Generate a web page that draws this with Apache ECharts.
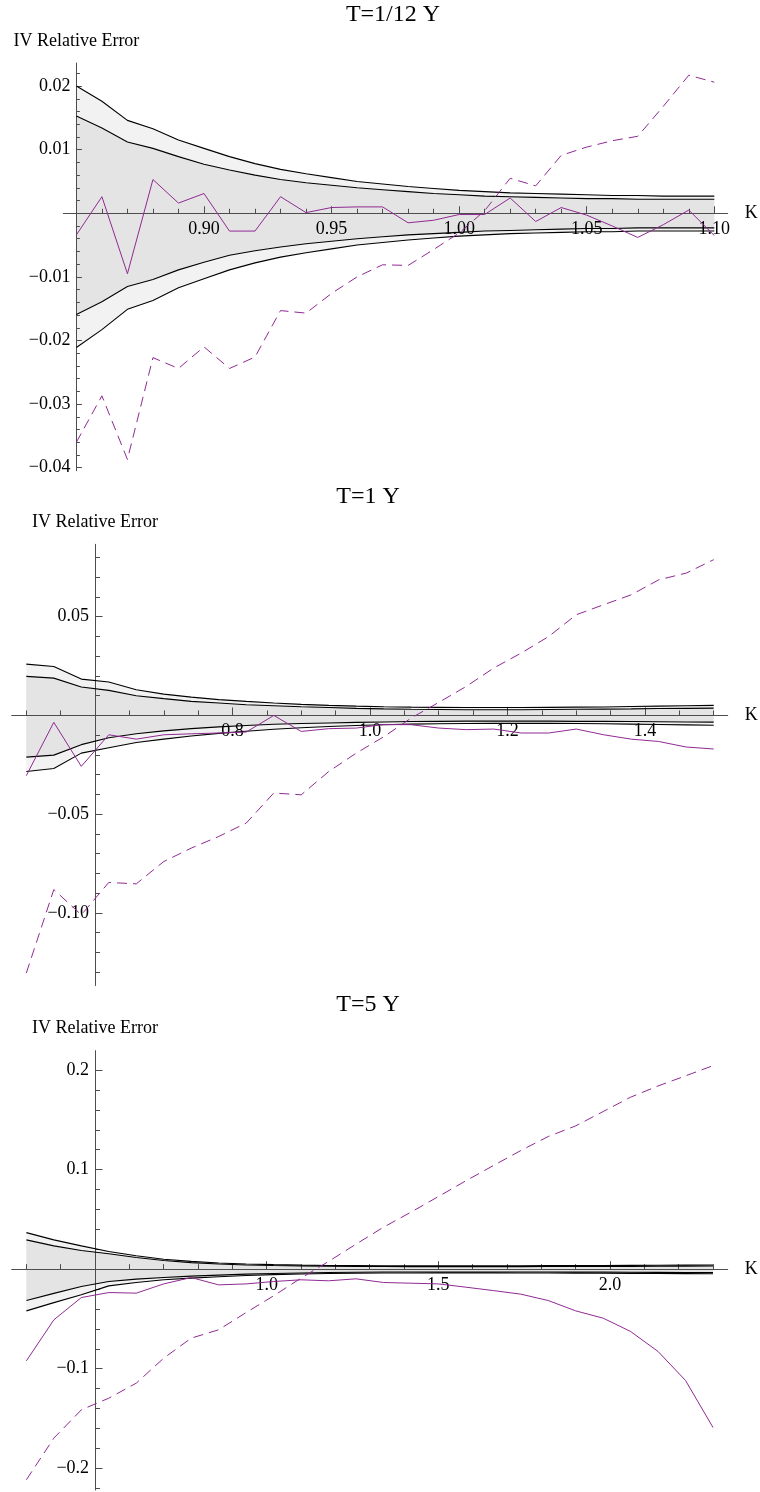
<!DOCTYPE html>
<html>
<head>
<meta charset="utf-8">
<script src="https://cdn.jsdelivr.net/npm/echarts@6/dist/echarts.min.js"></script>
<style>
  html, body { margin: 0; padding: 0; background: #ffffff; }
  #chart { width: 760px; height: 1492px; }
</style>
</head>
<body>
<div id="chart"></div>
<script>
// ---------- strikes ----------
const kShort = [0.85,0.86,0.87,0.88,0.89,0.90,0.91,0.92,0.93,0.94,0.95,0.96,0.97,0.98,0.99,1.00,1.01,1.02,1.03,1.04,1.05,1.06,1.07,1.08,1.09,1.10];
const kMid   = [0.50,0.54,0.58,0.62,0.66,0.70,0.74,0.78,0.82,0.86,0.90,0.94,0.98,1.02,1.06,1.10,1.14,1.18,1.22,1.26,1.30,1.34,1.38,1.42,1.46,1.50];
const kLong  = [0.30,0.38,0.46,0.54,0.62,0.70,0.78,0.86,0.94,1.02,1.10,1.18,1.26,1.34,1.42,1.50,1.58,1.66,1.74,1.82,1.90,1.98,2.06,2.14,2.22,2.30];

// ---------- T = 1/12 Y ----------
const upperOuter1 = [0.0200,0.0176,0.0146,0.0133,0.0115,0.0102,0.0089,0.0078,0.0069,0.0062,0.0056,0.0050,0.0046,0.0042,0.0039,0.0036,0.0034,0.0032,0.0031,0.0030,0.0029,0.0028,0.0028,0.0027,0.0027,0.0027];
const upperInner1 = [0.0153,0.0134,0.0112,0.0102,0.0089,0.0077,0.0068,0.0060,0.0053,0.0048,0.0044,0.0040,0.0037,0.0034,0.0031,0.0029,0.0027,0.0026,0.0025,0.0024,0.0023,0.0023,0.0022,0.0022,0.0022,0.0022];
const lowerInner1 = [-0.0159,-0.0139,-0.0115,-0.0104,-0.0089,-0.0077,-0.0066,-0.0059,-0.0053,-0.0048,-0.0044,-0.0040,-0.0037,-0.0034,-0.0032,-0.0030,-0.0028,-0.0027,-0.0026,-0.0025,-0.0024,-0.0024,-0.0023,-0.0023,-0.0023,-0.0023];
const lowerOuter1 = [-0.0211,-0.0183,-0.0151,-0.0137,-0.0117,-0.0103,-0.0089,-0.0078,-0.0069,-0.0062,-0.0056,-0.0050,-0.0046,-0.0042,-0.0039,-0.0036,-0.0034,-0.0032,-0.0031,-0.0030,-0.0029,-0.0029,-0.0028,-0.0028,-0.0028,-0.0028];
const errSolid1   = [-0.0034,0.0026,-0.0095,0.0053,0.0016,0.0031,-0.0028,-0.0028,0.0026,0.0001,0.0009,0.0010,0.0010,-0.0015,-0.0011,-0.0002,-0.0002,0.0024,-0.0013,0.0009,-0.0003,-0.0020,-0.0038,-0.0018,0.0005,-0.0035];
const errDashed1  = [-0.0360,-0.0287,-0.0387,-0.0227,-0.0244,-0.0210,-0.0244,-0.0226,-0.0153,-0.0157,-0.0126,-0.0100,-0.0081,-0.0082,-0.0057,-0.0031,0.0004,0.0055,0.0043,0.0091,0.0104,0.0114,0.0121,0.0168,0.0217,0.0206];

// ---------- T = 1 Y ----------
const upperOuter2 = [0.0260,0.0248,0.0184,0.0169,0.0130,0.0108,0.0093,0.0080,0.0071,0.0063,0.0056,0.0051,0.0047,0.0044,0.0042,0.0041,0.0040,0.0040,0.0040,0.0041,0.0042,0.0043,0.0045,0.0047,0.0049,0.0051];
const upperInner2 = [0.0198,0.0189,0.0144,0.0127,0.0100,0.0085,0.0071,0.0063,0.0054,0.0049,0.0044,0.0040,0.0036,0.0033,0.0031,0.0030,0.0029,0.0029,0.0029,0.0030,0.0031,0.0032,0.0033,0.0035,0.0036,0.0037];
const lowerInner2 = [-0.0211,-0.0201,-0.0148,-0.0113,-0.0093,-0.0078,-0.0067,-0.0058,-0.0051,-0.0045,-0.0041,-0.0038,-0.0035,-0.0033,-0.0031,-0.0030,-0.0029,-0.0029,-0.0029,-0.0029,-0.0030,-0.0030,-0.0031,-0.0032,-0.0033,-0.0034];
const lowerOuter2 = [-0.0284,-0.0269,-0.0191,-0.0164,-0.0137,-0.0120,-0.0104,-0.0091,-0.0080,-0.0070,-0.0062,-0.0056,-0.0051,-0.0047,-0.0044,-0.0042,-0.0041,-0.0040,-0.0040,-0.0040,-0.0041,-0.0042,-0.0044,-0.0046,-0.0048,-0.0050];
const errSolid2   = [-0.0305,-0.0035,-0.0258,-0.0098,-0.0120,-0.0098,-0.0093,-0.0089,-0.0084,0.0000,-0.0081,-0.0067,-0.0064,-0.0046,-0.0047,-0.0064,-0.0072,-0.0069,-0.0089,-0.0089,-0.0069,-0.0098,-0.0120,-0.0132,-0.0160,-0.0170];
const errDashed2  = [-0.1305,-0.0882,-0.1010,-0.0846,-0.0853,-0.0740,-0.0672,-0.0613,-0.0545,-0.0393,-0.0402,-0.0284,-0.0191,-0.0108,-0.0013,0.0066,0.0147,0.0240,0.0316,0.0400,0.0510,0.0561,0.0611,0.0687,0.0721,0.0789];

// ---------- T = 5 Y ----------
const upperOuter3 = [0.0367,0.0294,0.0234,0.0177,0.0134,0.0100,0.0078,0.0062,0.0052,0.0045,0.0040,0.0037,0.0035,0.0034,0.0033,0.0033,0.0033,0.0033,0.0034,0.0035,0.0036,0.0037,0.0038,0.0039,0.0040,0.0041];
const upperInner3 = [0.0294,0.0234,0.0187,0.0154,0.0117,0.0087,0.0066,0.0052,0.0042,0.0036,0.0032,0.0029,0.0027,0.0026,0.0025,0.0025,0.0025,0.0025,0.0025,0.0026,0.0026,0.0027,0.0028,0.0029,0.0030,0.0031];
const lowerInner3 = [-0.0315,-0.0243,-0.0175,-0.0124,-0.0100,-0.0084,-0.0070,-0.0060,-0.0050,-0.0043,-0.0038,-0.0034,-0.0031,-0.0029,-0.0028,-0.0028,-0.0028,-0.0028,-0.0028,-0.0029,-0.0030,-0.0030,-0.0031,-0.0032,-0.0033,-0.0034];
const lowerOuter3 = [-0.0419,-0.0336,-0.0258,-0.0168,-0.0134,-0.0107,-0.0090,-0.0077,-0.0064,-0.0055,-0.0048,-0.0044,-0.0041,-0.0039,-0.0038,-0.0037,-0.0037,-0.0037,-0.0038,-0.0039,-0.0040,-0.0041,-0.0042,-0.0044,-0.0045,-0.0046];
const errSolid3   = [-0.0921,-0.0509,-0.0285,-0.0235,-0.0241,-0.0148,-0.0084,-0.0158,-0.0148,-0.0124,-0.0107,-0.0117,-0.0097,-0.0134,-0.0141,-0.0148,-0.0181,-0.0215,-0.0251,-0.0315,-0.0419,-0.0492,-0.0626,-0.0827,-0.1118,-0.1590];
const errDashed3  = [-0.2115,-0.1697,-0.1413,-0.1296,-0.1145,-0.0894,-0.0693,-0.0609,-0.0436,-0.0268,-0.0090,0.0077,0.0251,0.0421,0.0572,0.0729,0.0887,0.1040,0.1191,0.1332,0.1439,0.1583,0.1727,0.1840,0.1941,0.2044];

// ---------- ticks and tick labels ----------
const xMajor1  = [0.85,0.90,0.95,1.00,1.05,1.10];
const xMinor1  = kShort;
const xLabels1 = [0.90,0.95,1.00,1.05,1.10];
const yMajor1  = [-0.04,-0.03,-0.02,-0.01,0.01,0.02];
const yMinor1  = [-0.040,-0.038,-0.036,-0.034,-0.032,-0.030,-0.028,-0.026,-0.024,-0.022,-0.020,-0.018,-0.016,-0.014,-0.012,-0.010,-0.008,-0.006,-0.004,-0.002,0.002,0.004,0.006,0.008,0.010,0.012,0.014,0.016,0.018,0.020,0.022];
const yLabels1 = [-0.04,-0.03,-0.02,-0.01,0.01,0.02];

const xMajor2  = [0.6,0.8,1.0,1.2,1.4];
const xMinor2  = [0.50,0.55,0.60,0.65,0.70,0.75,0.80,0.85,0.90,0.95,1.00,1.05,1.10,1.15,1.20,1.25,1.30,1.35,1.40,1.45,1.50];
const xLabels2 = [0.8,1.0,1.2,1.4];
const yMajor2  = [-0.10,-0.05,0.05];
const yMinor2  = [-0.13,-0.12,-0.11,-0.10,-0.09,-0.08,-0.07,-0.06,-0.05,-0.04,-0.03,-0.02,-0.01,0.01,0.02,0.03,0.04,0.05,0.06,0.07,0.08];
const yLabels2 = [-0.10,-0.05,0.05];

const xMajor3  = [0.5,1.0,1.5,2.0];
const xMinor3  = [0.3,0.4,0.5,0.6,0.7,0.8,0.9,1.0,1.1,1.2,1.3,1.4,1.5,1.6,1.7,1.8,1.9,2.0,2.1,2.2,2.3];
const xLabels3 = [1.0,1.5,2.0];
const yMajor3  = [-0.2,-0.1,0.1,0.2];
const yMinor3  = [-0.22,-0.20,-0.18,-0.16,-0.14,-0.12,-0.10,-0.08,-0.06,-0.04,-0.02,0.02,0.04,0.06,0.08,0.10,0.12,0.14,0.16,0.18,0.20];
const yLabels3 = [-0.2,-0.1,0.1,0.2];

const titles = ['T=1/12 Y', 'T=1 Y', 'T=5 Y'];

// ---------- styling ----------
const SERIF = "'Liberation Serif','Times New Roman',serif";
const PURPLE = '#902a93';
const AXIS = '#4d4d4d';
const BAND_LIGHT = '#f2f2f2';
const BAND_DARK = '#e4e4e4';

// Per-panel layout: grid box, axis extents, where the vertical axis crosses, label decimals
const panels = [
  { k: kShort, uo: upperOuter1, ui: upperInner1, li: lowerInner1, lo: lowerOuter1, a: errSolid1, b: errDashed1,
    xMajor: xMajor1, xMinor: xMinor1, xLabels: xLabels1, yMajor: yMajor1, yMinor: yMinor1, yLabels: yLabels1,
    layout: { left: 63.3, top: 63, width: 664.4, height: 407.7, xMin: 0.84487, xMax: 1.10525, yMin: -0.04047, yMax: 0.02362,
              cross: 0.85, xDec: 2, yDec: 2, titleX: 393, titleY: 3, tick: [7, 4.5, 5.5, 3.5] } },
  { k: kMid, uo: upperOuter2, ui: upperInner2, li: lowerInner2, lo: lowerOuter2, a: errSolid2, b: errDashed2,
    xMajor: xMajor2, xMinor: xMinor2, xLabels: xLabels2, yMajor: yMajor2, yMinor: yMinor2, yLabels: yLabels2,
    layout: { left: 11.7, top: 544.3, width: 716, height: 441.2, xMin: 0.47875, xMax: 1.52037, yMin: -0.1368, yMax: 0.08669,
              cross: 0.6, xDec: 1, yDec: 2, titleX: 368, titleY: 485, tick: [8, 5, 7.5, 5] } },
  { k: kLong, uo: upperOuter3, ui: upperInner3, li: lowerInner3, lo: lowerOuter3, a: errSolid3, b: errDashed3,
    xMajor: xMajor3, xMinor: xMinor3, xLabels: xLabels3, yMajor: yMajor3, yMinor: yMinor3, yLabels: yLabels3,
    layout: { left: 11.7, top: 1050.7, width: 716, height: 439.3, xMin: 0.2572, xMax: 2.3428, yMin: -0.2218, yMax: 0.2194,
              cross: 0.5, xDec: 1, yDec: 1, titleX: 368, titleY: 993, tick: [8, 5, 7.5, 5] } }
];

function fmt(dec) {
  return v => Number(v).toFixed(dec).replace('-', '\u2212');
}

// filled region between two bound curves, drawn as one polygon in data coordinates
function bandSeries(k, lower, upper, color, xi, yi) {
  return {
    type: 'custom', xAxisIndex: xi, yAxisIndex: yi, silent: true, z: 1,
    encode: { x: 0, y: [1, 2] },
    data: k.map((x, j) => [x, lower[j], upper[j]]),
    renderItem: (params, api) => {
      if (params.dataIndex !== 0) return null;
      const top = k.map((x, j) => api.coord([x, upper[j]]));
      const bottom = k.map((x, j) => api.coord([x, lower[j]])).reverse();
      return { type: 'polygon', shape: { points: top.concat(bottom) }, style: { fill: color, stroke: null } };
    }
  };
}

const option = {
  animation: false,
  backgroundColor: '#ffffff',
  title: [], grid: [], xAxis: [], yAxis: [], series: []
};

panels.forEach((p, i) => {
  const L = p.layout;
  const axisLine = { color: AXIS, width: 1 };
  const labelStyle = { fontFamily: SERIF, fontSize: 18, color: '#000' };
  // the vertical axis sits at x = cross, the horizontal one at y = 0
  const yOffset = -(L.cross - L.xMin) / (L.xMax - L.xMin) * L.width;
  const xOffset = -(0 - L.yMin) / (L.yMax - L.yMin) * L.height;
  const xi = 2 * i, yi = 2 * i;

  option.title.push({
    text: titles[i], left: L.titleX, top: L.titleY, textAlign: 'center', padding: 0,
    textStyle: { fontFamily: SERIF, fontSize: 24, fontWeight: 'normal', color: '#000' }
  });

  option.grid.push({ left: L.left, top: L.top, width: L.width, height: L.height, containLabel: false, outerBoundsMode: 'none' });

  // vertical axis: line, major ticks, labels, name
  option.yAxis.push({
    gridIndex: i, type: 'value', z: 2, min: L.yMin, max: L.yMax, position: 'left', offset: yOffset,
    name: 'IV Relative Error', nameLocation: 'end', nameGap: 13, nameMoveOverlap: false,
    nameTextStyle: { fontFamily: SERIF, fontSize: 18, color: '#000' },
    axisLine: { show: true, onZero: false, lineStyle: axisLine },
    axisTick: { show: true, inside: true, length: L.tick[2], customValues: p.yMajor, lineStyle: axisLine },
    axisLabel: Object.assign({ show: true, customValues: p.yLabels, formatter: fmt(L.yDec), margin: 6,
                               showMinLabel: true, showMaxLabel: true, hideOverlap: false }, labelStyle),
    splitLine: { show: false }
  });
  // vertical axis: minor ticks
  option.yAxis.push({
    gridIndex: i, type: 'value', z: 2, min: L.yMin, max: L.yMax, position: 'left', offset: yOffset,
    axisLine: { show: false, onZero: false },
    axisTick: { show: true, inside: true, length: L.tick[3], customValues: p.yMinor, lineStyle: axisLine },
    axisLabel: { show: false }, splitLine: { show: false }
  });
  // horizontal axis: line, major ticks, labels, name
  option.xAxis.push({
    gridIndex: i, type: 'value', z: 2, min: L.xMin, max: L.xMax, position: 'bottom', offset: xOffset,
    name: 'K', nameLocation: 'end', nameGap: 17, nameMoveOverlap: false,
    nameTextStyle: { fontFamily: SERIF, fontSize: 18, color: '#000', verticalAlign: 'middle' },
    axisLine: { show: true, onZero: false, lineStyle: axisLine },
    axisTick: { show: true, inside: true, length: L.tick[0], customValues: p.xMajor, lineStyle: axisLine },
    axisLabel: Object.assign({ show: true, customValues: p.xLabels, formatter: fmt(L.xDec), margin: 7,
                               showMinLabel: true, showMaxLabel: true, hideOverlap: false }, labelStyle),
    splitLine: { show: false }
  });
  // horizontal axis: minor ticks
  option.xAxis.push({
    gridIndex: i, type: 'value', z: 2, min: L.xMin, max: L.xMax, position: 'bottom', offset: xOffset,
    axisLine: { show: false, onZero: false },
    axisTick: { show: true, inside: true, length: L.tick[1], customValues: p.xMinor, lineStyle: axisLine },
    axisLabel: { show: false }, splitLine: { show: false }
  });

  // shaded bands between the bound curves
  option.series.push(bandSeries(p.k, p.lo, p.uo, BAND_LIGHT, xi, yi));
  option.series.push(bandSeries(p.k, p.li, p.ui, BAND_DARK, xi, yi));

  const pts = arr => p.k.map((k, j) => [k, arr[j]]);
  const common = { type: 'line', xAxisIndex: xi, yAxisIndex: yi, symbol: 'none', silent: true };

  // bound curves
  [p.uo, p.ui, p.li, p.lo].forEach(arr => {
    option.series.push(Object.assign({}, common, { data: pts(arr), z: 3, lineStyle: { color: '#000', width: 1.1 } }));
  });

  // relative errors
  option.series.push(Object.assign({}, common, { data: pts(p.a), z: 4, lineStyle: { color: PURPLE, width: 1 } }));
  option.series.push(Object.assign({}, common, { data: pts(p.b), z: 4, lineStyle: { color: PURPLE, width: 1, type: [10, 6] } }));
});

const chart = echarts.init(document.getElementById('chart'), null, { renderer: 'canvas', width: 760, height: 1492 });
chart.setOption(option);
</script>
</body>
</html>
